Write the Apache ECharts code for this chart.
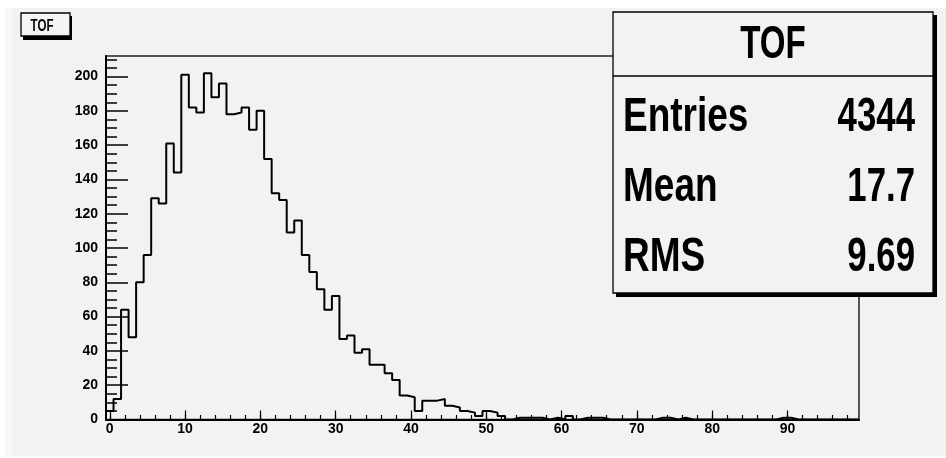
<!DOCTYPE html>
<html>
<head>
<meta charset="utf-8">
<script src="https://cdn.jsdelivr.net/npm/echarts@6/dist/echarts.min.js"></script>
<style>html,body{margin:0;padding:0;background:#fff;}#c{width:946px;height:458px;}</style>
</head>
<body>
<div id="c"></div>
<script>
// ---- data ----
const histTitle = 'TOF';
const binLow = -0.5;
const binWidth = 1;
const counts = [
  5, 12, 64, 48, 80, 96, 129, 126, 161, 144,
  201, 182, 179, 202, 188, 196, 178, 179, 182, 169,
  180, 152, 132, 128, 109, 116, 96, 86, 76, 64,
  72, 47, 49, 39, 41, 32, 32, 27, 23, 14,
  13, 5, 11, 11, 12, 8, 7, 5, 4, 2,
  5, 4, 2, 0, 1, 1, 1, 1, 0, 1,
  0, 2, 0, 1, 1, 1, 0, 0, 0, 0,
  0, 0, 0, 1, 1, 0, 1, 0, 0, 0,
  0, 0, 0, 0, 0, 0, 0, 0, 0, 1,
  1, 0, 0, 0, 0, 0, 0, 0, 0, 0
];
const statNames = ['Entries', 'Mean', 'RMS'];
const statValues = ['4344', '17.7', '9.69'];
const xMajorTicks = [0, 10, 20, 30, 40, 50, 60, 70, 80, 90];
const xMinorTicks = [0,2,4,6,8,10,12,14,16,18,20,22,24,26,28,30,32,34,36,38,40,42,44,46,48,50,52,54,56,58,60,62,64,66,68,70,72,74,76,78,80,82,84,86,88,90,92,94,96,98];
const yMajorTicks = [0, 20, 40, 60, 80, 100, 120, 140, 160, 180, 200];
const yMinorTicks = [0,5,10,15,20,25,30,35,40,45,50,55,60,65,70,75,80,85,90,95,100,105,110,115,120,125,130,135,140,145,150,155,160,165,170,175,180,185,190,195,200,205,210];
const xMin = -0.5, xMax = 99.5, yMin = 0, yMax = 212;

// ---- build step outline from bins ----
const outline = [[binLow, 0]];
counts.forEach((v, i) => outline.push([binLow + i * binWidth, v]));
const binHigh = binLow + counts.length * binWidth;
outline.push([binHigh, counts[counts.length - 1]]);
outline.push([binHigh, 0]);

const FONT = "'Liberation Sans', Arial, sans-serif";
const chart = echarts.init(document.getElementById('c'), null, {renderer: 'canvas'});

const statsX0 = 613, statsX1 = 933, statsY0 = 12, statsY1 = 293, statsDiv = 76;
const rowY = [117, 187, 257];

const graphics = [
  {type: 'rect', shape: {x: 0, y: 0, width: 946, height: 8}, style: {fill: '#ffffff'}, silent: true},
  {type: 'rect', shape: {x: 0, y: 0, width: 5, height: 458}, style: {fill: '#ffffff'}, silent: true},
  {type: 'rect', shape: {x: 0, y: 456, width: 946, height: 2}, style: {fill: '#ffffff'}, silent: true},
  {type: 'rect', shape: {x: 5, y: 8, width: 7, height: 448}, style: {fill: '#f8f8f8'}, silent: true},
  // title box
  {type: 'rect', shape: {x: 23, y: 16, width: 49, height: 24}, style: {fill: '#000'}, z: 100, silent: true},
  {type: 'rect', shape: {x: 21, y: 13, width: 49, height: 23}, style: {fill: '#f4f4f4', stroke: '#000', lineWidth: 1.3}, z: 101, silent: true},
  {type: 'text', x: 42, y: 26.5, scaleX: 0.72, style: {text: histTitle, font: 'bold 16px ' + FONT, fill: '#000', textAlign: 'center', textVerticalAlign: 'middle'}, z: 102, silent: true},
  // stats box
  {type: 'rect', shape: {x: statsX0 + 3, y: statsY0 + 3, width: statsX1 - statsX0 + 1, height: statsY1 - statsY0 + 1}, style: {fill: '#000'}, z: 100, silent: true},
  {type: 'rect', shape: {x: statsX0, y: statsY0, width: statsX1 - statsX0, height: statsY1 - statsY0}, style: {fill: '#f2f2f2', stroke: '#000', lineWidth: 1.3}, z: 101, silent: true},
  {type: 'line', shape: {x1: statsX0, y1: statsDiv, x2: statsX1, y2: statsDiv}, style: {stroke: '#000', lineWidth: 1.3}, z: 102, silent: true},
  {type: 'text', x: (statsX0 + statsX1) / 2, y: 45, scaleX: 0.72, style: {text: histTitle, font: 'bold 46px ' + FONT, fill: '#000', textAlign: 'center', textVerticalAlign: 'middle'}, z: 103, silent: true}
];
statNames.forEach((n, i) => {
  graphics.push({type: 'text', x: 623, y: rowY[i], scaleX: 0.755, style: {text: n, font: 'bold 49px ' + FONT, fill: '#000', textAlign: 'left', textVerticalAlign: 'middle'}, z: 103, silent: true});
  graphics.push({type: 'text', x: 915, y: rowY[i], scaleX: 0.71, style: {text: statValues[i], font: 'bold 49px ' + FONT, fill: '#000', textAlign: 'right', textVerticalAlign: 'middle'}, z: 103, silent: true});
});

const labelStyle = {color: '#000', fontFamily: FONT, fontWeight: 'bold', fontSize: 14};

chart.setOption({
  animation: false,
  backgroundColor: '#f2f2f2',
  grid: {left: 106, right: 87, top: 56, bottom: 38.5, show: true, borderColor: '#222', borderWidth: 1.5, backgroundColor: 'transparent', containLabel: false},
  xAxis: [
    {type: 'value', min: xMin, max: xMax, position: 'bottom',
     axisLine: {show: true, onZero: false, lineStyle: {color: '#000', width: 2}},
     axisTick: {show: true, inside: true, length: 9, customValues: xMajorTicks, lineStyle: {color: '#000', width: 1.2}},
     axisLabel: Object.assign({show: true, margin: 3, customValues: xMajorTicks}, labelStyle),
     splitLine: {show: false}},
    {type: 'value', min: xMin, max: xMax, position: 'bottom',
     axisLine: {show: false, onZero: false},
     axisTick: {show: true, inside: true, length: 4.5, customValues: xMinorTicks, lineStyle: {color: '#000', width: 1.2}},
     axisLabel: {show: false},
     splitLine: {show: false}}
  ],
  yAxis: [
    {type: 'value', min: yMin, max: yMax, position: 'left',
     axisLine: {show: true, onZero: false, lineStyle: {color: '#000', width: 2}},
     axisTick: {show: true, inside: true, length: 22, customValues: yMajorTicks, lineStyle: {color: '#000', width: 1.5}},
     axisLabel: Object.assign({show: true, margin: 8, customValues: yMajorTicks}, labelStyle),
     splitLine: {show: false}},
    {type: 'value', min: yMin, max: yMax, position: 'left',
     axisLine: {show: false, onZero: false},
     axisTick: {show: true, inside: true, length: 11, customValues: yMinorTicks, lineStyle: {color: '#000', width: 1.5}},
     axisLabel: {show: false},
     splitLine: {show: false}}
  ],
  series: [{
    type: 'line', name: histTitle, xAxisIndex: 0, yAxisIndex: 0,
    data: outline, step: 'end', symbol: 'none', smooth: false,
    lineStyle: {color: '#000', width: 2}, z: 5, clip: true
  }],
  graphic: graphics
});
</script>
</body>
</html>
